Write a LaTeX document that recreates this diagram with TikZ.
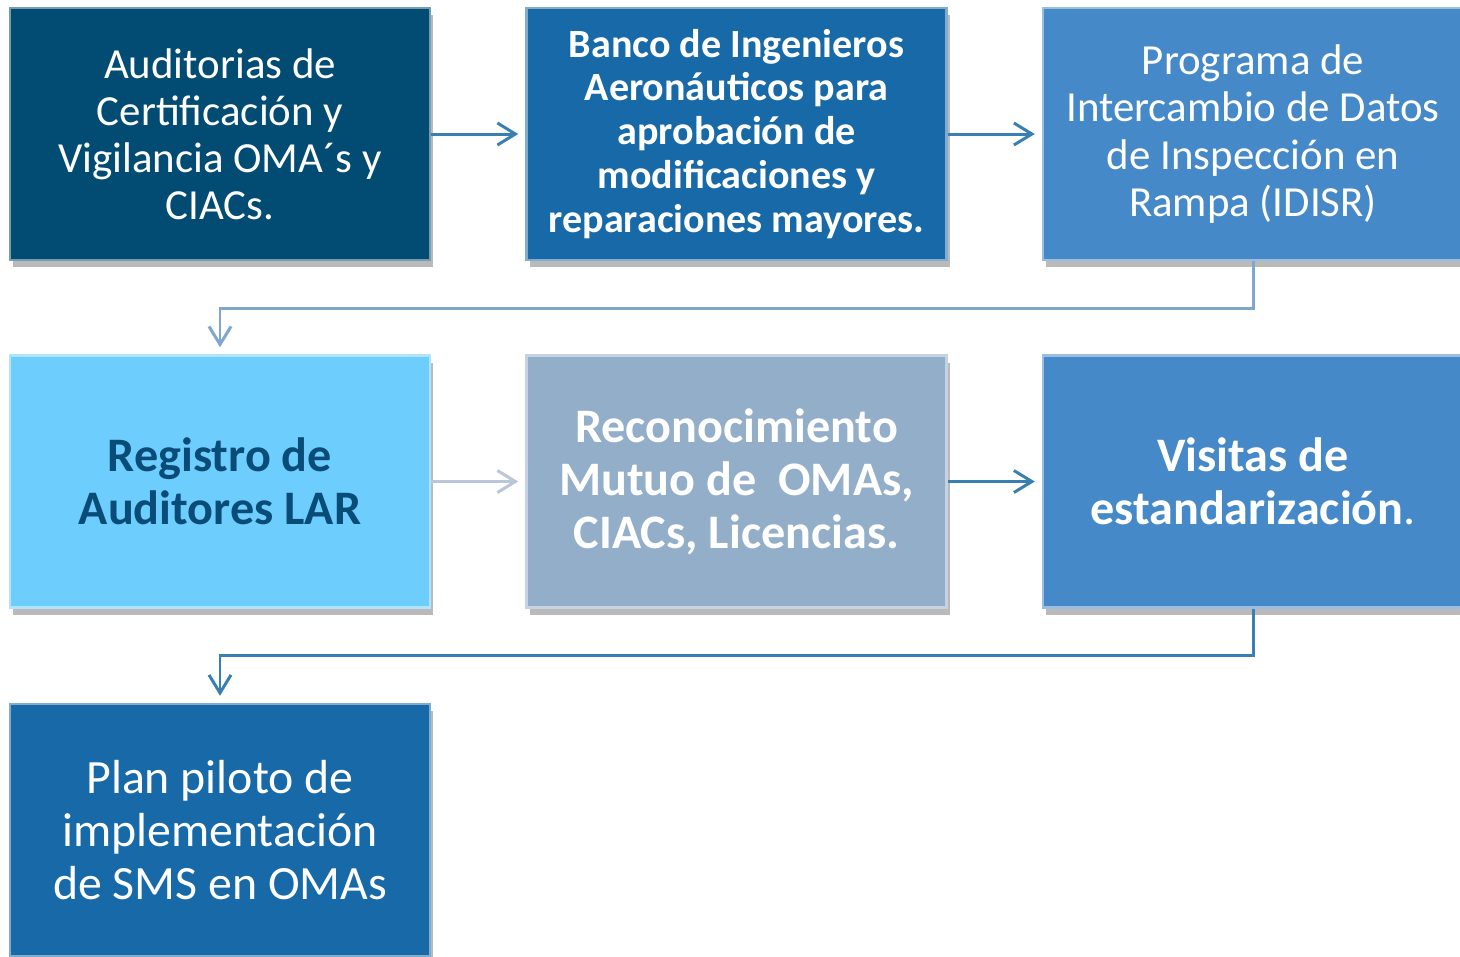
\documentclass[tikz,border=0pt]{standalone}
\usepackage{fontspec}
\setmainfont{Carlito}
\usepackage{tikz}
\usetikzlibrary{positioning}
\usetikzlibrary{arrows.meta, shadows}
\definecolor{navyblue}{HTML}{024C74}
\definecolor{midblue}{HTML}{1769A8}
\definecolor{steelblue}{HTML}{4589C8}
\definecolor{skyblue}{HTML}{6DCDFD}
\definecolor{grayblue}{HTML}{93AEC9}
\definecolor{darktext}{HTML}{0A4C78}
\definecolor{arrowblue}{HTML}{3A7FB2}
\definecolor{arrowlight}{HTML}{7EA6CF}
\definecolor{arrowgray}{HTML}{B9C6D8}
\tikzstyle{panel} = [rectangle, minimum width=42mm, minimum height=25.2mm, inner sep=0pt, align=center, text=white, draw=#1!55!white, line width=0.7pt, fill=#1, drop shadow={shadow xshift=0.3mm, shadow yshift=-0.7mm, opacity=0.45, fill=black!60}]
\tikzstyle{link} = [line width=0.85pt, -{Straight Barb[length=1.8mm, width=2.2mm]}, shorten >=0.7mm]
\tikzstyle{smalltxt} = [font=\fontsize{12.2}{13.4}\selectfont]
\tikzstyle{boldtxt} = [font=\fontsize{11.4}{12.5}\selectfont\bfseries]
\tikzstyle{bigtxt} = [font=\fontsize{13.6}{15.1}\selectfont]
\tikzstyle{bigbold} = [font=\fontsize{13.7}{15.1}\selectfont\bfseries]

\begin{document}
\begin{tikzpicture}[x=0.1mm, y=-0.1mm]
\useasboundingbox (0,0) rectangle (1460,956);
% first row
\node (auditorias) [panel=navyblue, smalltxt] at (220,134) {Auditorias de\\Certificación y\\Vigilancia OMA´s y\\CIACs.};
\node (banco) [panel=midblue, boldtxt] at (736.5,134) {Banco de Ingenieros\\Aeronáuticos para\\aprobación de\\modificaciones y\\reparaciones mayores.};
\node (idisr) [panel=steelblue, smalltxt] at (1253,134) {Programa de\\Intercambio de Datos\\de Inspección en\\Rampa (IDISR)};
% second row
\node (registro) [panel=skyblue, text=darktext, bigbold] at (220,481.5) {Registro de\\Auditores LAR};
\node (reconoc) [panel=grayblue, bigbold] at (736.5,481.5) {Reconocimiento\\Mutuo de\ \ OMAs,\\CIACs, Licencias.};
\node (visitas) [panel=steelblue, bigbold] at (1253,481.5) {Visitas de\\estandarización{\mdseries .}};
% third row
\node (piloto) [panel=midblue, bigtxt] at (220,830) {Plan piloto de\\implementación\\de SMS en OMAs};
% connectors
\draw[link, draw=arrowblue] (auditorias) -- (banco);
\draw[link, draw=arrowblue] (banco) -- (idisr);
\draw[link, draw=arrowlight] (idisr.south) -- ++(0,47) -| (registro.north);
\draw[link, draw=arrowgray] (registro) -- (reconoc);
\draw[link, draw=arrowblue] (reconoc) -- (visitas);
\draw[link, draw=arrowblue] (visitas.south) -- ++(0,47) -| (piloto.north);
\end{tikzpicture}
\end{document}
